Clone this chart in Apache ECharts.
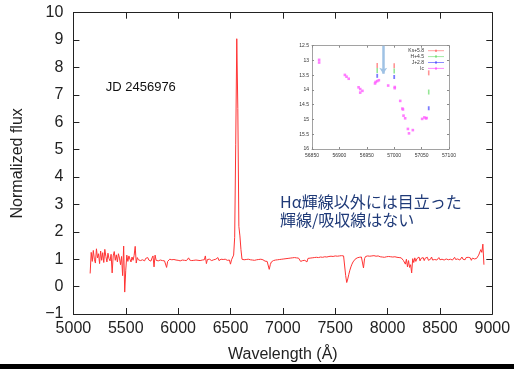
<!DOCTYPE html>
<html>
<head>
<meta charset="utf-8">
<script src="https://cdn.jsdelivr.net/npm/echarts@6/dist/echarts.min.js"></script>
<style>
  html, body { margin: 0; padding: 0; background: #fff; }
  #chart { width: 514px; height: 369px; }
</style>
</head>
<body>
<div id="chart"></div>
<script>
// Optical spectrum, normalized flux on a 10 Å grid starting at 5160 Å
const waveStart = 5160;
const waveStep = 10;
const flux = [
  0.48, 1.25, 0.92, 1.32, 1.00, 0.86, 1.38, 1.05, 1.20, 0.84,   // 5160
  1.30, 0.96, 1.24, 0.88, 1.36, 1.10, 0.90, 1.22, 1.02, 0.94,   // 5260
  1.18, 0.50, 1.12, 1.28, 0.96, 1.16, 0.90, 1.20, 1.04, 0.80,   // 5360
  1.10, 0.40, 1.48, -0.20, 0.60, 1.15, 0.92, 1.12, 1.00, 0.90,  // 5460
  1.08, 0.96, 1.14, 1.47, 0.86, 1.06, 0.98, 1.04, 0.95, 1.02,   // 5560
  0.98, 1.05, 0.94, 1.03, 0.99, 1.06, 0.97, 1.02, 0.93, 1.04,   // 5660
  1.12, 0.72, 1.15, 0.96, 1.02, 0.94, 1.00, 0.97, 1.03, 0.95,   // 5760
  0.98, 0.94, 0.99, 0.70, 0.92, 0.97, 1.00, 0.95, 0.98, 0.96,   // 5860
  0.99, 0.95, 0.97, 1.00, 0.96, 0.98, 0.94, 0.99, 0.97, 1.01,   // 5960
  0.96, 0.98, 0.95, 1.00, 1.05, 0.97, 0.99, 0.95, 0.98, 0.96,   // 6060
  0.99, 0.97, 1.01, 0.96, 0.98, 0.95, 1.00, 0.97, 1.03, 0.98,   // 6160
  1.12, 0.84, 0.99, 0.96, 1.00, 0.97, 0.95, 0.99, 0.98, 0.96,   // 6260
  1.00, 0.97, 1.06, 0.95, 0.98, 1.00, 0.96, 0.99, 0.97, 1.00,   // 6360
  0.98, 0.96, 1.00, 0.97, 0.82, 0.98, 1.02, 1.15, 1.80, 5.20,   // 6460
  9.05, 6.50, 2.20, 1.85, 1.35, 1.00, 0.95, 0.98, 0.96, 0.99,   // 6560
  0.97, 1.00, 0.96, 0.98, 1.01, 0.97, 0.99, 0.96, 1.00, 0.98,   // 6660
  0.96, 0.99, 0.97, 1.00, 0.95, 0.98, 0.96, 0.93, 0.95, 0.92,   // 6760
  0.88, 0.63, 0.80, 0.90, 0.93, 0.95, 0.94, 0.97, 0.96, 0.98,   // 6860
  0.97, 0.99, 0.98, 1.00, 0.99, 1.01, 1.00, 1.02, 1.01, 1.03,   // 6960
  1.02, 1.04, 1.03, 1.05, 1.04, 1.06, 1.03, 1.05, 1.00, 1.04,   // 7060
  0.98, 0.92, 0.86, 0.95, 1.02, 0.96, 1.00, 0.90, 1.03, 1.05,   // 7160
  1.04, 1.07, 1.05, 1.08, 1.06, 1.09, 1.07, 1.12, 1.06, 1.09,   // 7260
  1.08, 1.10, 1.07, 1.11, 1.09, 1.12, 1.08, 1.11, 1.10, 1.13,   // 7360
  1.11, 1.14, 1.10, 1.13, 1.12, 1.15, 1.11, 1.14, 1.12, 1.16,   // 7460
  1.13, 1.15, 1.12, 1.14, 0.40, 0.15, 0.28, 0.45, 0.60, 0.72,   // 7560
  0.82, 0.90, 0.95, 1.00, 1.03, 1.05, 1.04, 1.07, 1.05, 1.08,   // 7660
  1.06, 0.68, 1.02, 1.10, 1.08, 1.12, 1.09, 1.11, 1.08, 1.12,   // 7760
  1.10, 1.13, 1.09, 1.11, 1.08, 1.12, 1.10, 1.09, 1.11, 1.08,   // 7860
  1.10, 1.07, 1.11, 1.09, 1.08, 1.10, 1.06, 1.09, 1.07, 1.08,   // 7960
  1.06, 1.09, 1.05, 1.07, 1.04, 1.06, 1.02, 1.05, 1.00, 0.96,   // 8060
  0.90, 0.82, 1.00, 0.72, 0.95, 0.70, 0.80, 0.50, 1.02, 0.88,   // 8160
  1.05, 0.92, 1.02, 0.96, 1.08, 0.94, 1.03, 0.98, 1.06, 0.95,   // 8260
  1.04, 0.99, 1.07, 0.96, 1.02, 1.00, 1.08, 0.97, 1.03, 0.99,   // 8360
  1.05, 0.97, 1.02, 1.06, 0.98, 1.04, 1.00, 1.07, 0.97, 1.03,   // 8460
  1.01, 1.06, 0.98, 1.04, 1.00, 1.05, 0.97, 1.03, 1.07, 0.99,   // 8560
  1.04, 1.01, 1.06, 0.97, 1.03, 1.08, 1.00, 1.05, 0.98, 1.06,   // 8660
  1.02, 1.07, 1.00, 1.05, 0.96, 1.04, 1.09, 1.01, 1.06, 1.03,   // 8760
  1.06, 1.15, 1.08, 1.35, 1.25, 1.55, 0.80                      // 8860
];

// Light curve (inset): dates in MJD, magnitudes
const icDates = [56863, 56863, 56910, 56913, 56917, 56935, 56938, 56942, 56938,
                 56965, 56966, 56969, 56972, 56989, 57001, 57001, 57011, 57015,
                 57016, 57017, 57020, 57025, 57027, 57034, 57051, 57055, 57058, 57059];
const icMags  = [12.98, 13.07, 13.49, 13.55, 13.62, 13.91, 13.97, 14.03, 14.09,
                 13.78, 13.73, 13.70, 13.67, 13.85, 13.90, 13.94, 14.37, 14.63,
                 14.66, 14.87, 14.96, 15.32, 15.47, 15.36, 14.98, 14.93, 14.96, 14.95];
const nirDates = [56969, 57000, 57063];
const ksMags = [13.17, 13.18, 13.42];   // Ks + 5.8
const hMags  = [13.34, 13.36, 14.07];   // H + 4.5
const jMags  = [13.52, 13.56, 14.62];   // J + 2.8
const spectrumDate = 56980;             // epoch of the spectrum

const legendNames = ['Ks+5.8', 'H+4.5', 'J+2.8', 'Ic'];
const legendColors = ['#ff7a7a', '#7ae07a', '#5a5aff', '#ff5cff'];

const spectrum = flux.map((f, i) => [waveStart + i * waveStep, f]);
const pairs = (xs, ys) => xs.map((x, i) => [x, ys[i]]);

const FONT = 'Liberation Sans';
const axisDark = '#222';
const insetGray = '#8a8a8a';
const plain = v => String(v).replace('-', '\u2212');

function frameAxis(extra, color, tickLen, width) {
  return Object.assign({
    type: 'value',
    axisLine: { show: true, onZero: false, lineStyle: { color: color, width: width } },
    axisTick: { show: true, inside: true, length: tickLen, lineStyle: { color: color } },
    splitLine: { show: false }
  }, extra);
}

const chart = echarts.init(document.getElementById('chart'), null, { renderer: 'canvas' });

const legendGraphics = [];
legendNames.forEach((name, i) => {
  const y = 50.7 + i * 5.9;
  legendGraphics.push({
    type: 'text', x: 424, y: y,
    style: { text: name, fill: '#333', font: '5px ' + FONT, textAlign: 'right', textVerticalAlign: 'middle' }
  });
  legendGraphics.push({
    type: 'line', shape: { x1: 428, y1: y, x2: 444, y2: y },
    style: { stroke: legendColors[i], lineWidth: 0.7 }
  });
  legendGraphics.push({
    type: 'rect', shape: { x: 435, y: y - 1, width: 2, height: 2 },
    style: { fill: legendColors[i] }
  });
});

chart.setOption({
  animation: false,
  textStyle: { fontFamily: FONT },
  grid: [
    { left: 73.4, top: 12.7, width: 418.9, height: 301.3, outerBoundsMode: 'none' },
    { left: 312, top: 45.7, width: 137, height: 103.3, outerBoundsMode: 'none',
      show: true, backgroundColor: '#fff', borderWidth: 0 }
  ],
  xAxis: [
    frameAxis({
      gridIndex: 0, position: 'bottom', min: 5000, max: 9000, interval: 500,
      axisLabel: { fontSize: 16, color: '#222', margin: 7, formatter: plain },
      name: 'Wavelength (Å)', nameLocation: 'middle', nameGap: 33,
      nameTextStyle: { fontSize: 16, color: '#222' }
    }, axisDark, 6, 1),
    frameAxis({
      gridIndex: 0, position: 'top', min: 5000, max: 9000, interval: 500,
      axisLabel: { show: false }
    }, axisDark, 6, 1),
    frameAxis({
      gridIndex: 1, position: 'bottom', min: 56850, max: 57100, interval: 50,
      axisLabel: { fontSize: 5, color: '#333', margin: 4, formatter: plain }
    }, insetGray, 2, 0.8),
    frameAxis({
      gridIndex: 1, position: 'top', min: 56850, max: 57100, interval: 50,
      axisLabel: { show: false }
    }, insetGray, 2, 0.8)
  ],
  yAxis: [
    frameAxis({
      gridIndex: 0, position: 'left', min: -1, max: 10, interval: 1,
      axisLabel: { fontSize: 16, color: '#222', margin: 10, formatter: plain },
      name: 'Normalized flux', nameLocation: 'middle', nameGap: 48, nameRotate: 90,
      nameTextStyle: { fontSize: 16, color: '#222' }
    }, axisDark, 6, 1),
    frameAxis({
      gridIndex: 0, position: 'right', min: -1, max: 10, interval: 1,
      axisLabel: { show: false }
    }, axisDark, 6, 1),
    frameAxis({
      gridIndex: 1, position: 'left', min: 12.5, max: 16, interval: 0.5, inverse: true,
      axisLabel: { fontSize: 5, color: '#333', margin: 3 }
    }, insetGray, 2, 0.8),
    frameAxis({
      gridIndex: 1, position: 'right', min: 12.5, max: 16, interval: 0.5, inverse: true,
      axisLabel: { show: false }
    }, insetGray, 2, 0.8)
  ],
  series: [
    {
      name: 'spectrum', type: 'line', xAxisIndex: 0, yAxisIndex: 0,
      data: spectrum, showSymbol: false, silent: true,
      lineStyle: { color: '#ff3333', width: 1 }
    },
    {
      name: 'Ks+5.8', type: 'scatter', xAxisIndex: 2, yAxisIndex: 2,
      data: pairs(nirDates, ksMags), symbol: 'rect', symbolSize: [1.6, 5],
      itemStyle: { color: legendColors[0] }
    },
    {
      name: 'H+4.5', type: 'scatter', xAxisIndex: 2, yAxisIndex: 2,
      data: pairs(nirDates, hMags), symbol: 'rect', symbolSize: [1.6, 5],
      itemStyle: { color: legendColors[1] }
    },
    {
      name: 'J+2.8', type: 'scatter', xAxisIndex: 2, yAxisIndex: 2,
      data: pairs(nirDates, jMags), symbol: 'rect', symbolSize: [1.8, 4],
      itemStyle: { color: legendColors[2] },
      markLine: {
        silent: true, symbol: ['none', 'arrow'], symbolSize: [6, 6],
        label: { show: false },
        lineStyle: { color: '#9fc2e4', width: 2.5, type: 'solid' },
        data: [[{ coord: [spectrumDate, 12.5] }, { coord: [spectrumDate, 13.45] }]]
      }
    },
    {
      name: 'Ic', type: 'scatter', xAxisIndex: 2, yAxisIndex: 2,
      data: pairs(icDates, icMags), symbol: 'rect', symbolSize: 2.6,
      itemStyle: { color: legendColors[3] }
    }
  ],
  graphic: [
    {
      type: 'text', x: 140.8, y: 87.7,
      style: { text: 'JD 2456976', fill: '#111', font: '13px ' + FONT,
               textAlign: 'center', textVerticalAlign: 'middle' }
    },
    {
      type: 'text', x: 280, y: 201.7,
      style: { text: 'Hα輝線以外には目立った', fill: '#1f3a78',
               font: '16px "Noto Sans CJK JP"', textAlign: 'left', textVerticalAlign: 'middle' }
    },
    {
      type: 'text', x: 280, y: 220,
      style: { text: '輝線/吸収線はない', fill: '#1f3a78',
               font: '16px "Noto Sans CJK JP"', textAlign: 'left', textVerticalAlign: 'middle' }
    },
    {
      type: 'rect', shape: { x: 0, y: 364, width: 514, height: 5 },
      style: { fill: '#000' }
    }
  ].concat(legendGraphics)
});
</script>
</body>
</html>
